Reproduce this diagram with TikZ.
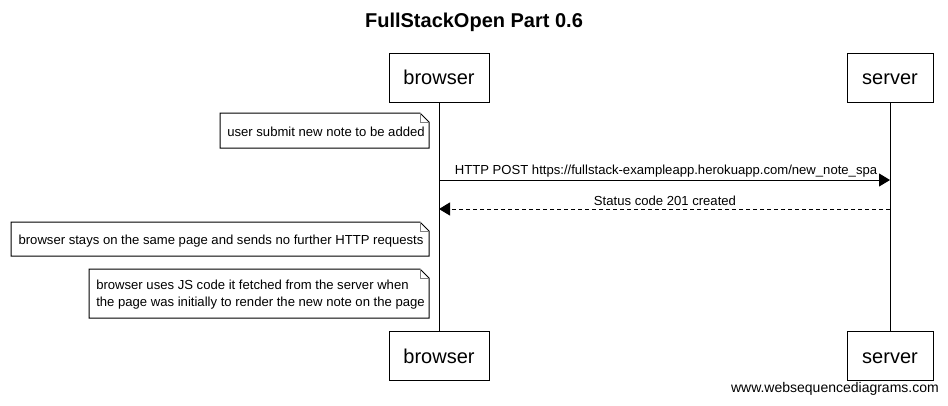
\documentclass[tikz,border=0pt]{standalone}
\usepackage{fontspec}
\setmainfont{Liberation Sans}
\usetikzlibrary{arrows.meta}
\tikzset{
  actor/.style={draw, line width=1pt, minimum height=49pt, inner sep=0pt, text height=16pt, text depth=2pt, font=\fontsize{20}{24}\selectfont},
  notetext/.style={inner sep=0pt, align=left, font=\fontsize{13.1}{17}\selectfont},
  msg/.style={font=\fontsize{13.1}{15}\selectfont, inner sep=0pt},
  life/.style={line width=1pt},
  reqline/.style={line width=1pt, -{Triangle[length=11pt,width=13pt]}},
  respline/.style={line width=1pt, dash pattern=on 4pt off 3pt, -{Triangle[length=11pt,width=13pt]}},
  noteline/.style={line width=1pt},
  foldline/.style={line width=0.6pt, draw=gray}
}
\newcommand{\mynote}[5]{%
  \coordinate (#1nw) at (#2,#3);
  \coordinate (#1se) at (#4,#5);
  \draw[noteline] (#2,#5) -- (#2,#3) -- (#4-9,#3) -- (#4,#3+9) -- (#4,#5) -- cycle;
  \draw[foldline] (#4-9,#3) -- (#4-9,#3+9) -- (#4,#3+9);
}
\begin{document}
\begin{tikzpicture}[x=1pt,y=-1pt]
\useasboundingbox[fill=white] (0,0) rectangle (948,405);
\node[font=\fontsize{20}{24}\selectfont\bfseries] (title) at (474,22) {FullStackOpen Part 0.6};
\node[actor, minimum width=100pt] (bt) at (439,77.5) {browser};
\node[actor, minimum width=86pt] (st) at (890,77.5) {server};
\node[actor, minimum width=100pt] (bb) at (439,356) {browser};
\node[actor, minimum width=86pt] (sb) at (890,356) {server};
\draw[life] (bt.south) -- (bb.north);
\draw[life] (st.south) -- (sb.north);
% note 1
\mynote{na}{220}{113}{429}{148}
\node[notetext] (n1) at (326,132) {user submit new note to be added};
% arrows
\coordinate (b1) at (439,180);
\coordinate (s1) at (890,180);
\draw[reqline] (b1) -- (s1);
\node[msg] (m1) at (666,171) {HTTP POST https://fullstack-exampleapp.herokuapp.com/new\_note\_spa};
\coordinate (s2) at (890,209);
\coordinate (b2) at (439,209);
\draw[respline] (s2) -- (b2);
\node[msg] (m2) at (665,201) {Status code 201 created};
% note 2
\mynote{nb}{11}{222}{429}{256}
\node[notetext] (n2) at (221,241) {browser stays on the same page and sends no further HTTP requests};
% note 3
\mynote{nc}{89}{269}{429}{318}
\node[notetext] (n3) at (260.5,295) {browser uses JS code it fetched from the server when\\the page was initially to render the new note on the page};
\node[font=\fontsize{14}{16}\selectfont, anchor=east, inner sep=0pt] (wsd) at (939,389) {www.websequencediagrams.com};
\end{tikzpicture}
\end{document}
